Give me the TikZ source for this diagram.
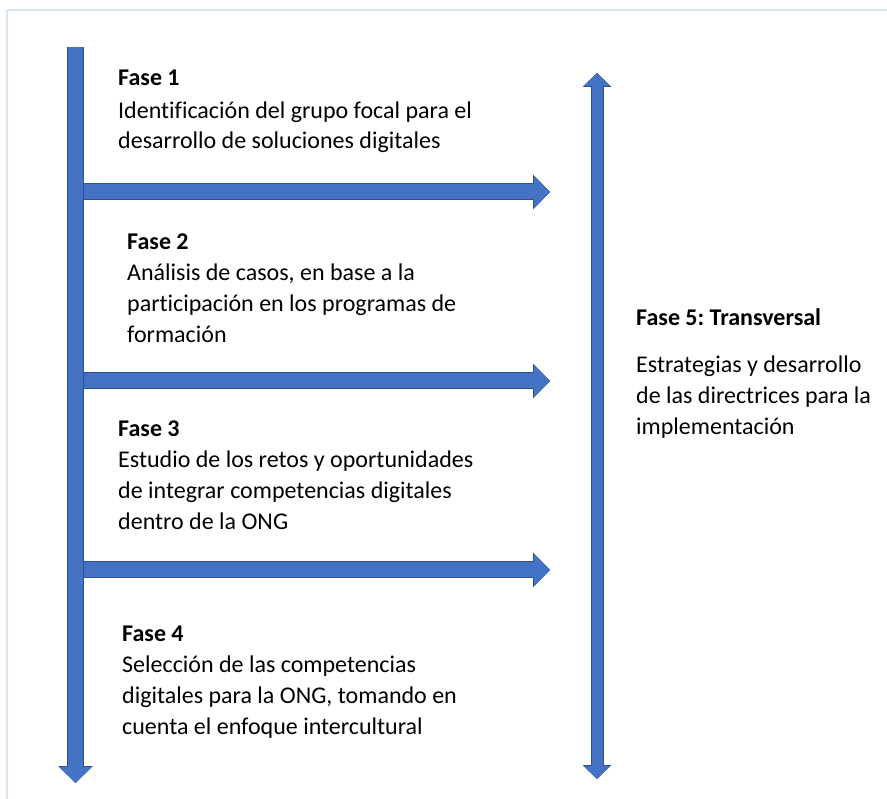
\documentclass[tikz,border=0pt]{standalone}
\usepackage{fontspec}
\setmainfont{Carlito}[Ligatures=NoCommon]
\usetikzlibrary{arrows.meta,positioning}
\definecolor{fasefill}{HTML}{4472C4}
\definecolor{faseedge}{HTML}{2F528F}
\definecolor{framecol}{HTML}{DAE3F3}
\frenchspacing

\begin{document}
\begin{tikzpicture}[x=1pt, y=-1pt,
        bigarrow/.style={draw=fasefill, line width=15pt,
            -{Triangle[length=16pt,width=32pt,line width=0pt]},
            preaction={draw=faseedge, line width=17pt,
                -{Triangle[length=17pt,width=35pt,line width=0pt]}}},
        sidearrow/.style={draw=fasefill, line width=11pt,
            {Triangle[length=13pt,width=27pt,line width=0pt]}-{Triangle[length=13pt,width=27pt,line width=0pt]},
            preaction={draw=faseedge, line width=13pt,
                {Triangle[length=14pt,width=29pt,line width=0pt]}-{Triangle[length=14pt,width=29pt,line width=0pt]}}},
        fase/.style={anchor=north west, inner sep=0pt, align=left,
            font=\fontsize{24}{30.8}\selectfont}]
        \useasboundingbox (0,0) rectangle (887,799);

        % light frame (top and left)
        \draw[framecol, line width=1.5pt] (7,799) -- (7,10) -- (887,10);

        % branches to the right
        \foreach \y [count=\i] in {192,381,570} {
            \coordinate (s\i) at (75.5,\y);
            \coordinate (e\i) at (550,\y);
            \draw[bigarrow] (s\i) -- (e\i);
        }

        % main spine (left)
        \coordinate (top) at (75.5,47);
        \coordinate (bottom) at (75.5,783);
        \draw[bigarrow] (top) -- (bottom);

        % transversal arrow (right)
        \coordinate (ttop) at (597,73);
        \coordinate (tbottom) at (597,779);
        \draw[sidearrow] (ttop) -- (tbottom);

        % phases
        \node[fase] (fase1) at (118,70) {\textbf{Fase 1}\\[1.5pt]
            Identificación del grupo focal para el\\
            desarrollo de soluciones digitales};
        \node[fase] (fase2) at (127,234) {\textbf{Fase 2}\\
            Análisis de casos, en base a la\\
            participación en los programas de\\
            formación};
        \node[fase] (fase3) at (118,421) {\textbf{Fase 3}\\
            Estudio de los retos y oportunidades\\
            de integrar competencias digitales\\
            dentro de la ONG};
        \node[fase] (fase4) at (122,626) {\textbf{Fase 4}\\
            Selección de las competencias\\
            digitales para la ONG, tomando en\\
            cuenta el enfoque intercultural};

        % phase 5
        \node[fase] (fase5) at (636,308) {\textbf{Fase 5: Transversal}\\[17pt]
            Estrategias y desarrollo\\
            de las directrices para la\\
            implementación};

    \end{tikzpicture}
\end{document}
